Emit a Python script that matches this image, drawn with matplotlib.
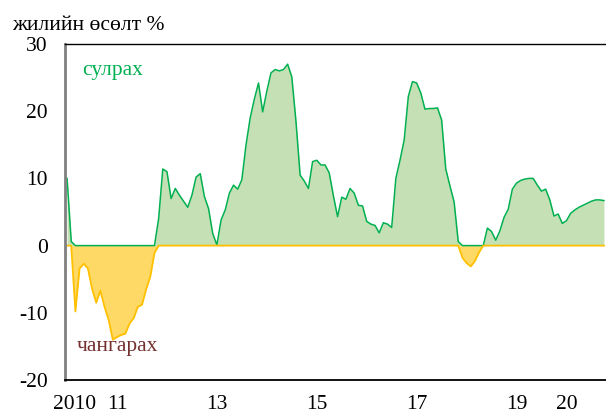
import numpy as np
import matplotlib
matplotlib.use("Agg")
from matplotlib import pyplot as plt
from matplotlib.transforms import ScaledTranslation

# monthly annual growth, Jan 2010 .. Oct 2020
growth = [
    10.0, 0.6, -9.8, -3.4, -2.7, -3.4, -6.4, -8.5, -6.7, -9.1, -11.1, -14.0,
    -13.6, -13.3, -13.1, -11.6, -10.8, -9.1, -8.8, -6.5, -4.6, -1.1, 4.0, 11.4,
    11.0, 7.0, 8.5, 7.5, 6.6, 5.7, 7.5, 10.2, 10.7, 7.3, 5.5, 1.8,
    0.1, 3.8, 5.3, 7.8, 9.0, 8.4, 9.8, 15.0, 19.0, 21.8, 24.2, 19.9,
    23.0, 25.7, 26.2, 26.0, 26.2, 27.0, 25.1, 18.5, 10.5, 9.6, 8.5, 12.5,
    12.7, 12.0, 12.0, 10.8, 7.4, 4.3, 7.2, 6.9, 8.5, 7.8, 6.0, 5.9,
    3.6, 3.2, 3.0, 1.9, 3.4, 3.2, 2.7, 10.0, 12.7, 15.7, 22.2, 24.4,
    24.2, 22.7, 20.3, 20.4, 20.4, 20.5, 18.7, 11.4, 8.9, 6.5, 0.6, -1.8,
    -2.6, -3.1, -2.3, -1.0, 0.0, 2.6, 2.1, 0.8, 2.2, 4.2, 5.4, 8.4,
    9.3, 9.7, 9.9, 10.0, 10.0, 9.0, 8.1, 8.4, 6.8, 4.4, 4.7, 3.3,
    3.7, 4.8, 5.3, 5.7, 6.0, 6.3, 6.6, 6.8, 6.8, 6.7,
]
tick_pos = [0, 12, 36, 60, 84, 108, 120]
tick_labels = ["2010", "11", "13", "15", "17", "19", "20"]
y_ticks = [-20, -10, 0, 10, 20, 30]

plt.rcParams["font.family"] = ["Liberation Serif", "DejaVu Serif"]
FS = 15.5

g = np.array(growth)
x = np.arange(len(g))
loose = np.clip(g, 0, None)   # сулрах
tight = np.clip(g, None, 0)   # чангарах

fig = plt.figure(figsize=(6.06, 4.16), dpi=100)
ax = fig.add_axes([65 / 606, 1 - 380 / 416, 1 - 65 / 606, (380 - 44) / 416])

ax.fill_between(x, 0, loose, color="#C5E0B4", lw=0)
ax.plot(x, loose, color="#00B050", lw=1.1)
ax.fill_between(x, 0, tight, color="#FFD966", lw=0)
ax.plot(x, tight, color="#FFC000", lw=1.3)

ax.set_xlim(-0.5, len(g) - 0.5)
ax.set_ylim(-20, 30)
ax.set_yticks(y_ticks)
ax.set_yticklabels([str(v) for v in y_ticks], fontsize=FS)
ax.set_xticks(tick_pos)
ax.set_xticklabels(tick_labels, fontsize=FS)
ax.tick_params(axis="both", length=0)
ax.tick_params(axis="y", pad=12.5)
ax.tick_params(axis="x", pad=11)

# first year label sits a bit to the right, like in the source
first = ax.get_xticklabels()[0]
first.set_transform(first.get_transform() + ScaledTranslation(0.07, 0, fig.dpi_scale_trans))

ax.spines["right"].set_visible(False)
ax.spines["top"].set_color("black")
ax.spines["top"].set_linewidth(1.0)
ax.spines["left"].set_color("#808080")
ax.spines["left"].set_linewidth(2)
ax.spines["bottom"].set_color("black")
ax.spines["bottom"].set_linewidth(1.3)

ax.text(3.5, 26, "сулрах", color="#00B050", fontsize=FS, va="center")
ax.text(2.3, -15, "чангарах", color="#73302F", fontsize=FS, va="center")
fig.text(12 / 606, 1 - 25 / 416, "жилийн өсөлт %", fontsize=FS, va="center")

fig.savefig("out.png", dpi=100)
